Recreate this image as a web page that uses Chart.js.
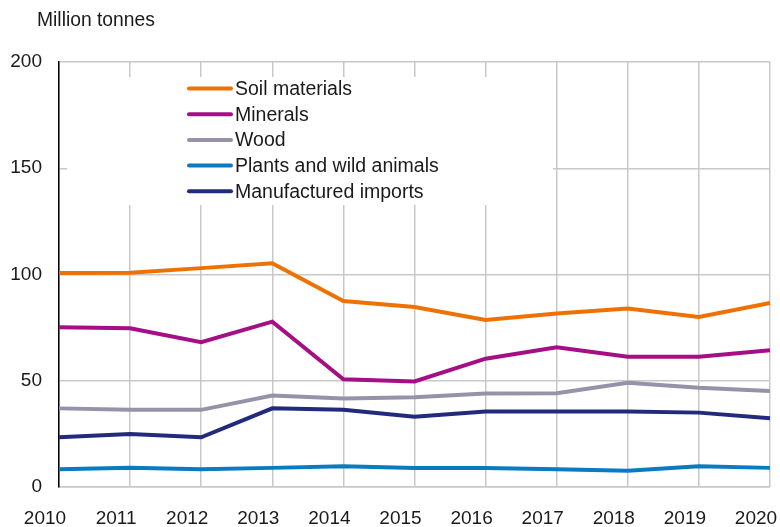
<!DOCTYPE html>
<html>
<head>
<meta charset="utf-8">
<script src="https://cdn.jsdelivr.net/npm/chart.js@4/dist/chart.umd.min.js"></script>
<style>
html,body{margin:0;padding:0;background:#fff;}
#wrap{width:780px;height:527px;}
</style>
</head>
<body>
<div id="wrap"><canvas id="c" width="780" height="527"></canvas></div>
<script>
const years = ['2010','2011','2012','2013','2014','2015','2016','2017','2018','2019','2020'];
const yTicks = [0, 50, 100, 150, 200];
const unitLabel = 'Million tonnes';
const seriesNames = ['Soil materials','Minerals','Wood','Plants and wild animals','Manufactured imports'];
const soil = [100.7, 100.8, 103.0, 105.3, 87.5, 84.7, 78.6, 81.6, 84.0, 80.0, 86.6];
const minerals = [75.2, 74.7, 68.1, 77.8, 50.7, 49.7, 60.4, 65.7, 61.3, 61.3, 64.3];
const wood = [37.0, 36.3, 36.3, 43.0, 41.6, 42.2, 44.0, 44.1, 49.1, 46.7, 45.2];
const plants = [8.3, 9.0, 8.4, 9.0, 9.8, 9.0, 9.0, 8.3, 7.7, 9.8, 9.0];
const manufactured = [23.4, 24.9, 23.4, 37.0, 36.3, 33.1, 35.5, 35.5, 35.5, 35.0, 32.3];
const colors = ['#EE7203','#A50E85','#9592A9','#0A7BC1','#222B7B'];

const FONT = '"Liberation Sans", Arial, sans-serif';
const TXT = '#1a1a1a';

const legendPlugin = {
  id: 'customLegend',
  afterDatasetsDraw(chart) {
    const ctx = chart.ctx;
    ctx.save();
    ctx.fillStyle = '#fff';
    ctx.fillRect(67, 77, 486, 128);
    chart.data.datasets.forEach((ds, i) => {
      const y = 88.5 + i * 25.7;
      ctx.strokeStyle = ds.borderColor;
      ctx.lineWidth = 4;
      ctx.lineCap = 'round';
      ctx.beginPath();
      ctx.moveTo(189, y);
      ctx.lineTo(231, y);
      ctx.stroke();
      ctx.fillStyle = TXT;
      ctx.font = '19.5px ' + FONT;
      ctx.textBaseline = 'middle';
      ctx.textAlign = 'left';
      ctx.fillText(ds.label, 235, y + 1);
    });
    ctx.font = '19.3px ' + FONT;
    ctx.fillStyle = TXT;
    ctx.textBaseline = 'middle';
    ctx.textAlign = 'left';
    ctx.fillText(unitLabel, 37, 21);
    ctx.restore();
  }
};

const dataArrays = [soil, minerals, wood, plants, manufactured];
new Chart(document.getElementById('c'), {
  type: 'line',
  data: {
    labels: years,
    datasets: dataArrays.map((d, i) => ({
      label: seriesNames[i],
      data: d,
      borderColor: colors[i],
      backgroundColor: colors[i],
      borderWidth: 4,
      pointRadius: 0,
      tension: 0,
      fill: false
    }))
  },
  options: {
    responsive: false,
    animation: false,
    devicePixelRatio: 1,
    layout: { padding: { top: 62, right: 10, left: 0, bottom: 0 } },
    plugins: { legend: { display: false }, tooltip: { enabled: false }, title: { display: false } },
    scales: {
      x: {
        type: 'category',
        offset: false,
        grid: { color: '#c8c8c8', lineWidth: 1.5, drawTicks: false },
        border: { color: '#c8c8c8', width: 1.5 },
        ticks: { font: { family: FONT, size: 19 }, color: TXT, padding: 20, labelOffset: -14, maxRotation: 0, autoSkip: false },
        afterFit(s) { s.height = 40; s.paddingLeft = 0; s.paddingRight = 0; s.paddingTop = 0; s.paddingBottom = 0; }
      },
      y: {
        min: 0, max: 200,
        afterBuildTicks(s) { s.ticks = yTicks.map(v => ({ value: v })); },
        grid: { color: '#c8c8c8', lineWidth: 1.5, drawTicks: false },
        border: { color: '#000', width: 1.5 },
        ticks: { font: { family: FONT, size: 19 }, color: TXT, padding: 17 },
        afterFit(s) { s.width = 59; s.paddingLeft = 0; s.paddingRight = 0; s.paddingTop = 0; s.paddingBottom = 0; }
      }
    }
  },
  plugins: [legendPlugin]
});
</script>
</body>
</html>
